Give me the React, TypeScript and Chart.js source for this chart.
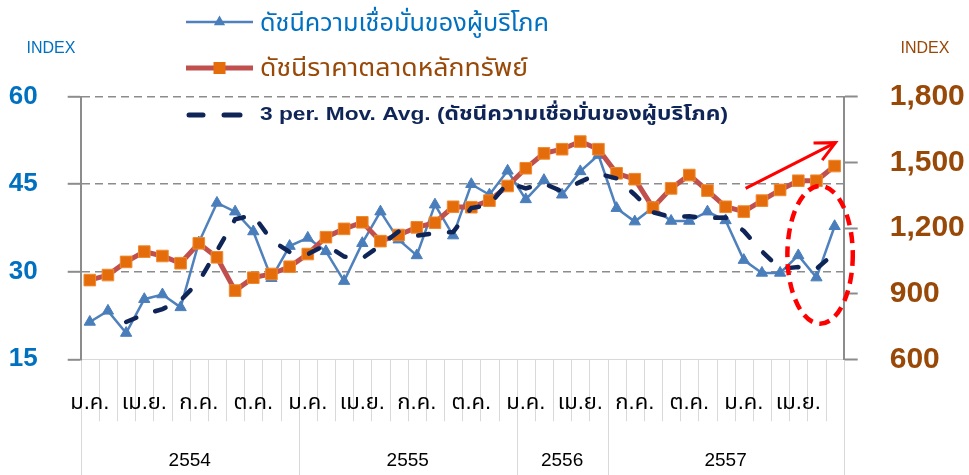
import React, { useEffect, useRef } from "react";
import { Chart, registerables } from "chart.js";

Chart.register(...registerables);

// ---------- data ----------
const monthNames = ["ม.ค.", "ก.พ.", "มี.ค.", "เม.ย.", "พ.ค.", "มิ.ย.", "ก.ค.", "ส.ค.", "ก.ย.", "ต.ค.", "พ.ย.", "ธ.ค."];
const categoryCount = 42;
const categories = Array.from({ length: categoryCount }, (_, i) => monthNames[i % 12]);
const tickEvery = 3;

const yearLabels = ["2554", "2555", "2556", "2557"];
const yearBounds = [0, 12, 24, 29, 42];

const consumerConfidence = [
  21.4, 23.3, 19.5, 25.3, 26.1, 23.9, 35.0, 41.8, 40.3, 36.9, 28.9, 34.4,
  35.8, 33.5, 28.4, 34.9, 40.3, 35.5, 32.8, 41.5, 36.2, 45.0, 43.2, 47.3,
  42.4, 45.7, 43.2, 47.2, 50.0, 40.9, 38.6, 41.0, 38.7, 38.7, 40.3, 38.8,
  32.0, 29.8, 29.8, 32.8, 29.0, 37.8,
];

const setIndex = [
  962, 985, 1045, 1092, 1072, 1039, 1130, 1066, 914, 973, 990, 1023,
  1081, 1158, 1196, 1226, 1140, 1168, 1203, 1224, 1297, 1295, 1325, 1392,
  1473, 1541, 1560, 1595, 1560, 1450, 1423, 1293, 1381, 1442, 1371, 1297,
  1275, 1325, 1374, 1416, 1416, 1483,
];

const movingAvg3 = [
  null, null, 21.4, 22.7, 23.6, 25.1, 28.3, 33.6, 39.0, 39.7, 35.4, 33.4,
  33.0, 34.6, 32.6, 32.3, 34.5, 36.9, 36.2, 36.6, 36.8, 40.9, 41.5, 45.2,
  44.3, 45.1, 43.8, 45.4, 46.8, 46.0, 43.2, 40.2, 39.4, 39.5, 39.2, 39.3,
  37.0, 33.5, 30.5, 30.8, 30.5, 33.2,
];

const leftAxis = [15, 60, 15]; // min, max, step
const rightAxis = [600, 1800, 300];
const axisTitles = ["INDEX", "INDEX"];
const legendLabels = [
  "ดัชนีความเชื่อมั่นของผู้บริโภค",
  "ดัชนีราคาตลาดหลักทรัพย์",
  "3 per. Mov. Avg. (ดัชนีความเชื่อมั่นของผู้บริโภค)",
];

// annotations in data coordinates: [category index, value]
const arrowFrom = [36.1, 1381];
const arrowTo = [41.05, 1590];
const ellipseCenter = [40.2, 32.9];
const ellipseRadii = [1.8, 11.8];

// ---------- styles ----------
const FONT = "'Liberation Sans', Arial, 'Noto Sans Thai', Tahoma, sans-serif";
const BLUE = "#0070C0";
const BROWN = "#984807";
const NAVY = "#0F2557";
const LINE_BLUE = "#4F81BD";
const MARK_BLUE = "#4A7EBB";
const LINE_RED = "#C0504D";
const MARK_ORANGE = "#E46C0A";
const GRID = "#8C8C8C";
const LIGHT = "#D9D9D9";

const W = 969;
const H = 475;

function fitText(ctx: CanvasRenderingContext2D, text: string, x: number, y: number, width: number) {
  const m = ctx.measureText(text).width;
  const k = width / m;
  ctx.save();
  ctx.translate(x, y);
  ctx.scale(k, 1);
  ctx.fillText(text, 0, 0);
  ctx.restore();
}

const decorPlugin = {
  id: "decor",
  beforeDraw(chart: any) {
    const ctx = chart.ctx;
    const xs = chart.scales.x;
    const area = chart.chartArea;
    const step = xs.getPixelForValue(1) - xs.getPixelForValue(0);
    const edge = (i: number) => xs.getPixelForValue(0) - step / 2 + i * step;
    ctx.save();
    ctx.strokeStyle = LIGHT;
    ctx.lineWidth = 1;
    for (let i = 0; i <= categories.length; i++) {
      const px = Math.round(edge(i)) + 0.5;
      const isYear = yearBounds.includes(i);
      ctx.beginPath();
      ctx.moveTo(px, area.bottom);
      ctx.lineTo(px, isYear ? H : area.bottom + 62);
      ctx.stroke();
    }
    ctx.fillStyle = "#000";
    ctx.font = `19px ${FONT}`;
    ctx.textAlign = "center";
    ctx.textBaseline = "middle";
    for (let k = 0; k < yearLabels.length; k++) {
      const cx = (edge(yearBounds[k]) + edge(yearBounds[k + 1])) / 2;
      ctx.fillText(yearLabels[k], cx, 461);
    }
    ctx.font = `16px ${FONT}`;
    ctx.fillStyle = BLUE;
    ctx.fillText(axisTitles[0], 51, 49);
    ctx.fillStyle = BROWN;
    ctx.fillText(axisTitles[1], 925, 49);
    ctx.restore();
  },
  afterDraw(chart: any) {
    const ctx = chart.ctx;
    const xs = chart.scales.x;
    const yl = chart.scales.y;
    const yr = chart.scales.y1;
    const step = xs.getPixelForValue(1) - xs.getPixelForValue(0);
    const catPx = (v: number) => xs.getPixelForValue(0) + v * step;
    ctx.save();

    // legend
    const lx0 = 186, lx1 = 253, tx = 260;
    // item 1
    ctx.strokeStyle = LINE_BLUE;
    ctx.lineWidth = 2.5;
    ctx.beginPath(); ctx.moveTo(lx0, 22); ctx.lineTo(lx1, 22); ctx.stroke();
    ctx.fillStyle = MARK_BLUE;
    const r = 6.5, cx = (lx0 + lx1) / 2;
    ctx.beginPath();
    ctx.moveTo(cx, 22 - r);
    ctx.lineTo(cx + r * 0.866, 22 + r / 2);
    ctx.lineTo(cx - r * 0.866, 22 + r / 2);
    ctx.closePath(); ctx.fill();
    ctx.font = `24px ${FONT}`;
    ctx.textAlign = "left";
    ctx.textBaseline = "middle";
    ctx.fillStyle = BLUE;
    fitText(ctx, legendLabels[0], tx, 24, 289);
    // item 2
    ctx.strokeStyle = LINE_RED;
    ctx.lineWidth = 5;
    ctx.beginPath(); ctx.moveTo(lx0, 68); ctx.lineTo(lx1, 68); ctx.stroke();
    ctx.fillStyle = MARK_ORANGE;
    ctx.fillRect(cx - 6, 62, 12, 12);
    ctx.fillStyle = BROWN;
    fitText(ctx, legendLabels[1], tx, 69, 268);
    // item 3
    ctx.strokeStyle = NAVY;
    ctx.lineWidth = 5;
    ctx.lineCap = "round";
    ctx.beginPath(); ctx.moveTo(189, 115); ctx.lineTo(203, 115); ctx.stroke();
    ctx.beginPath(); ctx.moveTo(224, 115); ctx.lineTo(240, 115); ctx.stroke();
    ctx.font = `bold 19px ${FONT}`;
    ctx.fillStyle = NAVY;
    fitText(ctx, legendLabels[2], tx, 115, 468);

    // red arrow
    const ax0 = catPx(arrowFrom[0]), ay0 = yr.getPixelForValue(arrowFrom[1]);
    const ax1 = catPx(arrowTo[0]), ay1 = yr.getPixelForValue(arrowTo[1]);
    ctx.strokeStyle = "#FF0000";
    ctx.lineWidth = 3;
    ctx.lineCap = "butt";
    ctx.beginPath(); ctx.moveTo(ax0, ay0); ctx.lineTo(ax1, ay1); ctx.stroke();
    const ang = Math.atan2(ay1 - ay0, ax1 - ax0);
    const hl = 22;
    ctx.beginPath();
    ctx.moveTo(ax1 - hl * Math.cos(ang - 0.45), ay1 - hl * Math.sin(ang - 0.45));
    ctx.lineTo(ax1, ay1);
    ctx.lineTo(ax1 - hl * Math.cos(ang + 0.45), ay1 - hl * Math.sin(ang + 0.45));
    ctx.stroke();

    // red dashed ellipse
    const ex = catPx(ellipseCenter[0]);
    const ey = yl.getPixelForValue(ellipseCenter[1]);
    const erx = ellipseRadii[0] * step;
    const ery = Math.abs(yl.getPixelForValue(ellipseCenter[1] + ellipseRadii[1]) - ey);
    ctx.lineWidth = 4.5;
    ctx.setLineDash([11, 7]);
    ctx.beginPath();
    ctx.ellipse(ex, ey, erx, ery, 0, 0, Math.PI * 2);
    ctx.stroke();
    ctx.restore();
  },
};

export default function App() {
  const ref = useRef<HTMLCanvasElement | null>(null);
  useEffect(() => {
    document.body.style.margin = "0";
    const canvas = ref.current!;
    const chart = new Chart(canvas, {
      type: "line",
      data: {
        labels: categories,
        datasets: [
          {
            label: legendLabels[0],
            data: consumerConfidence,
            yAxisID: "y",
            borderColor: LINE_BLUE,
            backgroundColor: MARK_BLUE,
            borderWidth: 2.5,
            pointStyle: "triangle",
            pointRadius: 6.5,
            pointBorderWidth: 1,
            pointBorderColor: MARK_BLUE,
            tension: 0,
            order: 3,
          },
          {
            label: legendLabels[1],
            data: setIndex,
            yAxisID: "y1",
            borderColor: LINE_RED,
            backgroundColor: MARK_ORANGE,
            borderWidth: 5,
            pointStyle: "rect",
            pointRadius: 8.2,
            pointBorderWidth: 1,
            pointBorderColor: "#F08A30",
            tension: 0,
            order: 2,
          },
          {
            label: legendLabels[2],
            data: movingAvg3 as any,
            yAxisID: "y",
            borderColor: NAVY,
            borderWidth: 4.5,
            borderDash: [11, 20],
            borderCapStyle: "round",
            pointRadius: 0,
            tension: 0,
            order: 1,
          },
        ],
      },
      options: {
        responsive: false,
        animation: false,
        layout: { padding: { top: 96.7, left: 0, right: 0, bottom: 0 } },
        plugins: { legend: { display: false }, tooltip: { enabled: false } },
        scales: {
          x: {
            type: "category",
            offset: true,
            grid: { display: false },
            border: { display: true, color: LIGHT, width: 1 },
            ticks: {
              autoSkip: false,
              maxRotation: 0,
              minRotation: 0,
              padding: 22,
              color: "#000",
              font: { family: FONT, size: 22 },
              callback: (_v: any, i: number) => (i % tickEvery === 0 ? categories[i] : ""),
            },
            afterFit: (s: any) => { s.height = H - 359.3; },
          },
          y: {
            position: "left",
            min: leftAxis[0],
            max: leftAxis[1],
            ticks: {
              stepSize: leftAxis[2],
              color: BLUE,
              font: { family: FONT, size: 26, weight: "bold" },
              padding: 30,
            },
            grid: {
              color: (c: any) => (c.tick && c.tick.value === leftAxis[0] ? "rgba(0,0,0,0)" : GRID),
              lineWidth: 1.6,
              tickLength: 13,
              tickColor: GRID,
              tickWidth: 2,
              tickBorderDash: [],
            },
            border: { display: true, color: GRID, width: 2, dash: [8, 5] },
            afterFit: (s: any) => { s.width = 80.7; },
          },
          y1: {
            position: "right",
            min: rightAxis[0],
            max: rightAxis[1],
            ticks: {
              stepSize: rightAxis[2],
              color: BROWN,
              font: { family: FONT, size: 30, weight: "bold" },
              padding: 32,
              callback: (v: any) => Number(v).toLocaleString("en-US"),
            },
            grid: { drawOnChartArea: false, tickLength: 14, color: GRID, tickWidth: 2 },
            border: { display: true, color: GRID, width: 2 },
            afterFit: (s: any) => { s.width = W - 843.7; },
          },
        },
      },
      plugins: [decorPlugin],
    });
    return () => chart.destroy();
  }, []);
  return (
    <div style={{ position: "fixed", left: 0, top: 0, width: W, height: H, background: "#fff" }}>
      <canvas ref={ref} width={W} height={H} style={{ display: "block" }} />
    </div>
  );
}
